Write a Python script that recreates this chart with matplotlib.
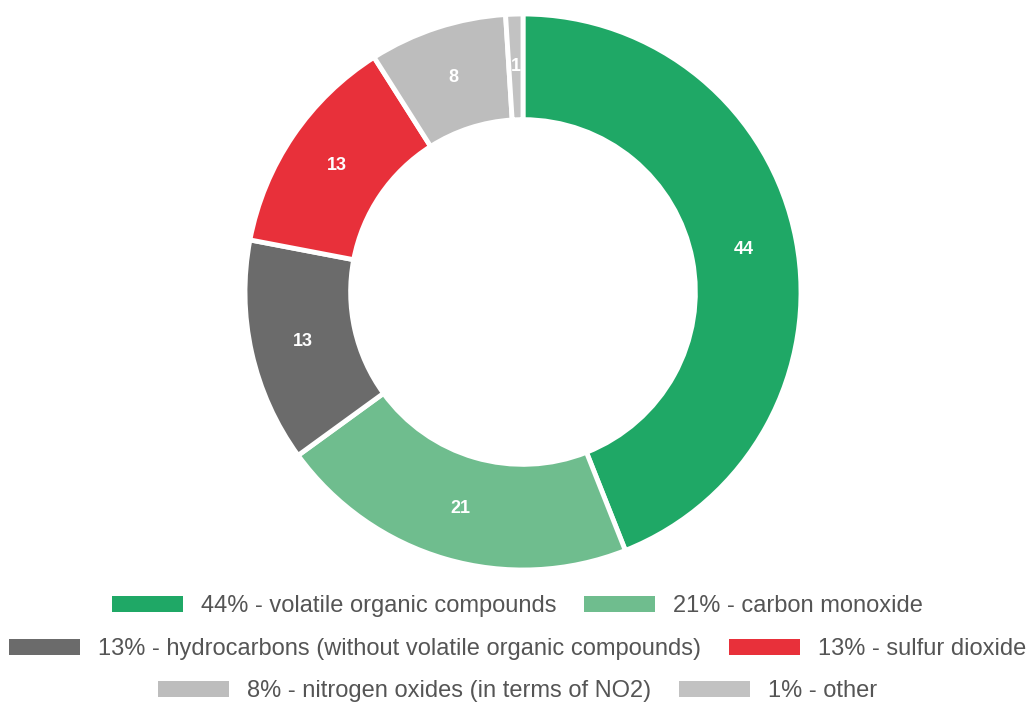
import matplotlib
matplotlib.use("Agg")
import matplotlib.pyplot as plt
from matplotlib.patches import Patch
import numpy as np

categories = ["volatile organic compounds", "carbon monoxide",
              "hydrocarbons (without volatile organic compounds)", "sulfur dioxide",
              "nitrogen oxides (in terms of NO2)", "other"]
values = [44, 21, 13, 13, 8, 1]
colors = ["#1fa866", "#6fbd8e", "#6b6b6b", "#e8303a", "#bdbdbd", "#c2c2c2"]

W, H = 1035, 702
fig = plt.figure(figsize=(W / 100, H / 100), dpi=100)
cx, cy, r = 523, 292, 278
ax = fig.add_axes([(cx - r) / W, (H - cy - r) / H, 2 * r / W, 2 * r / H])
wedges, _ = ax.pie(values, colors=colors, startangle=90, counterclock=False,
                   radius=1.0, wedgeprops=dict(width=0.38, edgecolor="white", linewidth=3.5))
ax.set_xlim(-1, 1)
ax.set_ylim(-1, 1)
ax.set_aspect("equal")
ax.axis("off")

total = sum(values)
start = 90.0
for v in values:
    mid = np.deg2rad(start - 360.0 * v / total / 2)
    start -= 360.0 * v / total
    rr = 0.81
    ax.text(rr * np.cos(mid), rr * np.sin(mid), f"{v}", color="white", ha="center",
            va="center", fontsize=13, fontweight="bold", family="Liberation Sans")

labels = [f"{v}% - {c}" for v, c in zip(values, categories)]
handles = [Patch(facecolor=c, edgecolor="none") for c in colors]
rows = [(0, 2, 606), (2, 4, 649), (4, 6, 691)]
for a, b, y in rows:
    fig.legend(handles[a:b], labels[a:b], ncol=2, loc="center",
               bbox_to_anchor=(0.5, 1 - y / H), frameon=False,
               prop=dict(family="Liberation Sans", size=17), labelcolor="#555555",
               handlelength=3.0, handleheight=0.64, handletextpad=0.76,
               columnspacing=1.2, borderpad=0, borderaxespad=0)

fig.savefig("out.png", dpi=100, facecolor="white")
